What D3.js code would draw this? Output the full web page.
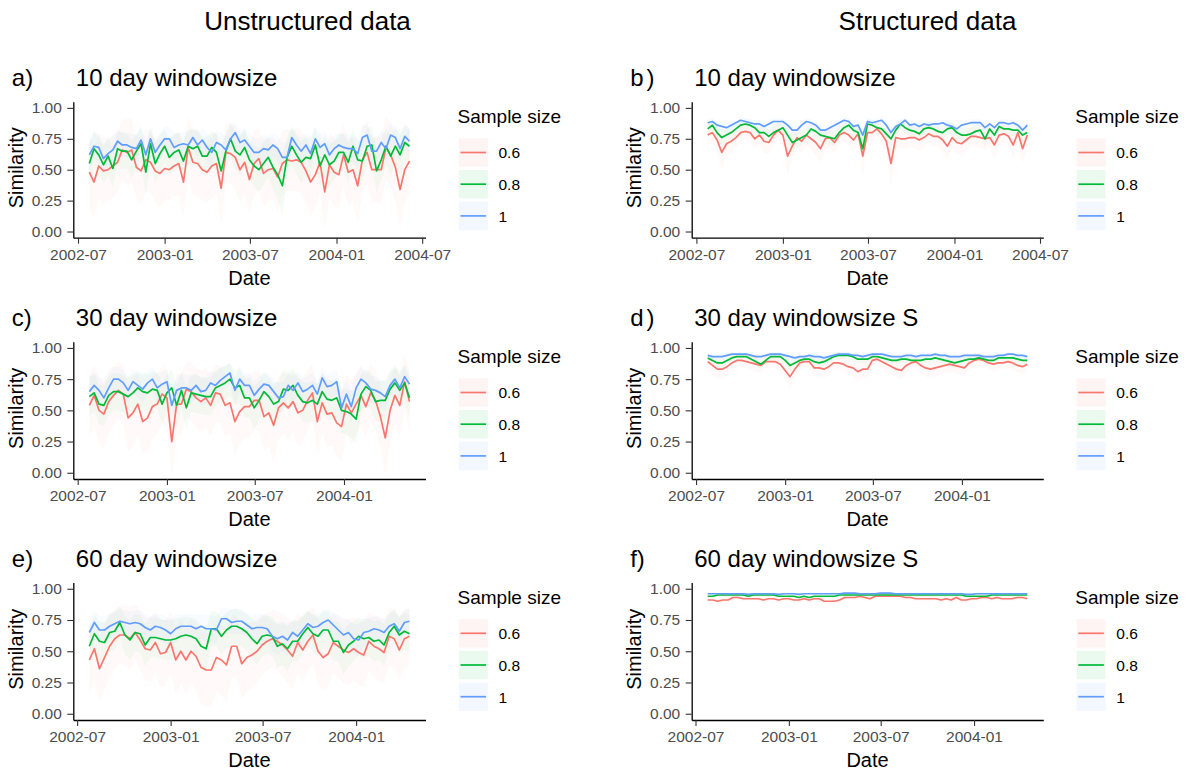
<!DOCTYPE html>
<html>
<head>
<meta charset="utf-8">
<script src="https://cdn.jsdelivr.net/npm/d3@7"></script>
<style>
body { margin: 0; background: #fff; font-family: "Liberation Sans", Arial, sans-serif; }
</style>
</head>
<body>
<div id="chart"></div>
<script>
// similarity per window (points every 10 days), one array per sample size
var a06 = [0.48,0.40,0.53,0.49,0.50,0.53,0.56,0.66,0.64,0.66, 0.52,0.49,0.58,0.56,0.49,0.47,0.51,0.50,0.53,0.55, 0.40,0.68,0.56,0.55,0.50,0.48,0.53,0.55,0.35,0.64, 0.63,0.60,0.50,0.56,0.42,0.55,0.59,0.47,0.50,0.51, 0.44,0.55,0.58,0.57,0.58,0.56,0.49,0.40,0.46,0.56, 0.32,0.54,0.48,0.46,0.62,0.48,0.50,0.37,0.58,0.64, 0.50,0.50,0.50,0.68,0.62,0.52,0.34,0.50,0.57];
var a08 = [0.55,0.67,0.62,0.54,0.61,0.51,0.67,0.65,0.65,0.58, 0.65,0.71,0.48,0.71,0.55,0.63,0.69,0.60,0.64,0.66, 0.57,0.69,0.67,0.69,0.61,0.61,0.68,0.64,0.49,0.65, 0.75,0.65,0.62,0.68,0.58,0.53,0.50,0.55,0.60,0.52, 0.46,0.37,0.60,0.69,0.62,0.56,0.60,0.59,0.70,0.53, 0.62,0.54,0.57,0.64,0.64,0.56,0.69,0.58,0.57,0.69, 0.70,0.49,0.58,0.69,0.61,0.69,0.62,0.72,0.69];
var a10 = [0.62,0.69,0.68,0.59,0.63,0.66,0.73,0.70,0.70,0.68, 0.67,0.74,0.62,0.75,0.64,0.70,0.75,0.75,0.68,0.70, 0.71,0.70,0.76,0.70,0.74,0.68,0.64,0.72,0.70,0.66, 0.75,0.80,0.72,0.74,0.69,0.64,0.64,0.67,0.66,0.70, 0.67,0.60,0.60,0.76,0.70,0.65,0.70,0.63,0.75,0.68, 0.71,0.62,0.67,0.70,0.68,0.67,0.67,0.63,0.76,0.78, 0.65,0.65,0.72,0.67,0.78,0.76,0.67,0.77,0.73];

var b06 = [0.78,0.80,0.74,0.64,0.71,0.73,0.76,0.80,0.81,0.80, 0.75,0.78,0.73,0.72,0.78,0.82,0.78,0.61,0.69,0.76, 0.73,0.78,0.75,0.72,0.67,0.75,0.76,0.72,0.78,0.80, 0.78,0.74,0.79,0.61,0.80,0.80,0.83,0.79,0.73,0.55, 0.76,0.75,0.75,0.76,0.76,0.74,0.76,0.79,0.77,0.77, 0.74,0.69,0.76,0.72,0.71,0.74,0.77,0.77,0.76,0.75, 0.76,0.70,0.78,0.79,0.77,0.70,0.80,0.67,0.78];
var b08 = [0.83,0.86,0.80,0.76,0.78,0.80,0.83,0.86,0.87,0.86, 0.84,0.80,0.80,0.77,0.80,0.82,0.84,0.78,0.72,0.74, 0.76,0.78,0.83,0.81,0.78,0.77,0.76,0.75,0.80,0.84, 0.86,0.82,0.80,0.67,0.87,0.86,0.84,0.83,0.79,0.75, 0.82,0.87,0.84,0.82,0.81,0.79,0.83,0.84,0.83,0.81, 0.80,0.83,0.84,0.80,0.78,0.78,0.79,0.81,0.82,0.75, 0.83,0.78,0.85,0.83,0.83,0.82,0.82,0.78,0.80];
var b10 = [0.88,0.89,0.86,0.85,0.84,0.86,0.88,0.90,0.89,0.88, 0.87,0.87,0.85,0.87,0.89,0.89,0.89,0.86,0.82,0.82, 0.86,0.89,0.88,0.86,0.82,0.82,0.84,0.86,0.88,0.90, 0.89,0.85,0.86,0.78,0.89,0.88,0.89,0.90,0.86,0.80, 0.85,0.87,0.90,0.86,0.87,0.85,0.87,0.86,0.87,0.87, 0.88,0.86,0.85,0.83,0.86,0.87,0.88,0.88,0.88,0.84, 0.87,0.84,0.88,0.88,0.87,0.88,0.86,0.82,0.86];

var c06 = [0.54,0.62,0.50,0.47,0.57,0.62,0.66,0.63,0.44,0.48, 0.55,0.41,0.44,0.53,0.55,0.63,0.60,0.25,0.55,0.55, 0.67,0.65,0.60,0.57,0.60,0.54,0.64,0.63,0.54,0.56, 0.41,0.49,0.53,0.53,0.58,0.58,0.45,0.48,0.38,0.52, 0.56,0.52,0.57,0.48,0.50,0.58,0.64,0.41,0.56,0.47, 0.48,0.40,0.37,0.55,0.48,0.55,0.62,0.53,0.64,0.58, 0.45,0.28,0.50,0.62,0.54,0.73,0.57];
var c08 = [0.61,0.64,0.55,0.54,0.62,0.65,0.65,0.63,0.61,0.64, 0.68,0.65,0.64,0.67,0.66,0.55,0.64,0.68,0.54,0.66, 0.52,0.64,0.63,0.62,0.61,0.61,0.68,0.70,0.72,0.75, 0.68,0.70,0.60,0.60,0.52,0.58,0.65,0.61,0.55,0.57, 0.67,0.66,0.70,0.62,0.57,0.56,0.58,0.55,0.65,0.59, 0.58,0.60,0.50,0.49,0.47,0.43,0.63,0.69,0.66,0.57, 0.58,0.58,0.67,0.72,0.66,0.72,0.60];
var c10 = [0.65,0.70,0.66,0.60,0.68,0.75,0.75,0.72,0.66,0.73, 0.70,0.67,0.72,0.75,0.68,0.71,0.73,0.54,0.66,0.68, 0.68,0.66,0.70,0.65,0.66,0.72,0.70,0.74,0.77,0.80, 0.66,0.75,0.70,0.70,0.62,0.67,0.71,0.70,0.65,0.60, 0.61,0.70,0.66,0.72,0.65,0.67,0.70,0.63,0.76,0.69, 0.70,0.73,0.52,0.63,0.53,0.68,0.75,0.72,0.67,0.66, 0.64,0.61,0.70,0.75,0.68,0.77,0.71];

var d06 = [0.89,0.86,0.83,0.83,0.85,0.88,0.90,0.90,0.89,0.88, 0.87,0.86,0.89,0.89,0.89,0.87,0.82,0.77,0.83,0.88, 0.89,0.89,0.84,0.84,0.83,0.85,0.88,0.88,0.87,0.85, 0.84,0.81,0.83,0.83,0.90,0.91,0.89,0.87,0.85,0.83, 0.82,0.86,0.88,0.89,0.86,0.84,0.83,0.84,0.85,0.86, 0.87,0.86,0.85,0.84,0.88,0.90,0.91,0.90,0.88,0.87, 0.88,0.88,0.89,0.88,0.86,0.85,0.87];
var d08 = [0.92,0.90,0.88,0.88,0.90,0.92,0.93,0.93,0.93,0.91, 0.89,0.87,0.90,0.93,0.93,0.93,0.90,0.86,0.88,0.90, 0.91,0.91,0.89,0.88,0.89,0.91,0.93,0.94,0.94,0.94, 0.93,0.91,0.91,0.91,0.93,0.93,0.92,0.91,0.90,0.90, 0.91,0.91,0.90,0.90,0.90,0.91,0.91,0.92,0.91,0.90, 0.89,0.88,0.89,0.90,0.91,0.91,0.92,0.91,0.90,0.90, 0.92,0.92,0.92,0.92,0.91,0.90,0.90];
var d10 = [0.94,0.93,0.93,0.93,0.94,0.95,0.95,0.95,0.95,0.94, 0.93,0.93,0.94,0.95,0.95,0.95,0.94,0.93,0.92,0.93, 0.93,0.94,0.93,0.93,0.92,0.93,0.94,0.95,0.95,0.95, 0.94,0.94,0.93,0.94,0.95,0.95,0.95,0.94,0.93,0.93, 0.93,0.94,0.94,0.93,0.94,0.94,0.94,0.95,0.94,0.94, 0.93,0.93,0.93,0.94,0.94,0.94,0.94,0.93,0.93,0.93, 0.94,0.94,0.95,0.95,0.94,0.94,0.93];

var e06 = [0.43,0.52,0.36,0.45,0.54,0.60,0.63,0.63,0.60,0.65, 0.59,0.52,0.51,0.57,0.48,0.49,0.57,0.43,0.50,0.43, 0.50,0.46,0.37,0.35,0.35,0.45,0.43,0.39,0.54,0.54, 0.40,0.45,0.47,0.50,0.55,0.58,0.60,0.58,0.55,0.51, 0.46,0.57,0.51,0.58,0.63,0.50,0.45,0.48,0.57,0.54, 0.51,0.49,0.52,0.49,0.47,0.58,0.54,0.52,0.49,0.62, 0.60,0.51,0.60,0.62];
var e08 = [0.54,0.64,0.58,0.57,0.65,0.66,0.73,0.63,0.59,0.65, 0.64,0.55,0.61,0.61,0.60,0.59,0.59,0.60,0.62,0.63, 0.62,0.60,0.54,0.52,0.68,0.68,0.62,0.67,0.70,0.70, 0.68,0.65,0.60,0.56,0.62,0.63,0.62,0.54,0.56,0.52, 0.58,0.58,0.64,0.69,0.64,0.62,0.67,0.67,0.58,0.58, 0.49,0.55,0.58,0.62,0.60,0.61,0.58,0.59,0.55,0.65, 0.70,0.63,0.66,0.64];
var e10 = [0.65,0.73,0.67,0.67,0.70,0.72,0.74,0.73,0.72,0.73, 0.72,0.69,0.67,0.70,0.69,0.67,0.64,0.68,0.70,0.70, 0.70,0.68,0.70,0.68,0.68,0.67,0.76,0.76,0.73,0.74, 0.74,0.71,0.68,0.69,0.69,0.68,0.62,0.60,0.62,0.59, 0.65,0.62,0.67,0.72,0.69,0.70,0.73,0.75,0.71,0.67, 0.63,0.65,0.60,0.59,0.65,0.66,0.68,0.67,0.65,0.70, 0.72,0.66,0.73,0.74];

var f06 = [0.91,0.91,0.90,0.91,0.91,0.93,0.93,0.92,0.92,0.92, 0.92,0.91,0.92,0.92,0.91,0.92,0.92,0.91,0.91,0.92, 0.91,0.92,0.92,0.90,0.90,0.90,0.91,0.93,0.93,0.93, 0.94,0.93,0.92,0.94,0.94,0.94,0.94,0.94,0.94,0.93, 0.93,0.92,0.92,0.92,0.92,0.92,0.91,0.92,0.91,0.93, 0.91,0.91,0.92,0.92,0.93,0.93,0.92,0.93,0.92,0.92, 0.92,0.93,0.93,0.92];
var f08 = [0.94,0.94,0.95,0.95,0.95,0.95,0.95,0.95,0.94,0.95, 0.95,0.95,0.95,0.95,0.94,0.94,0.94,0.94,0.93,0.94, 0.93,0.94,0.94,0.94,0.94,0.94,0.95,0.95,0.95,0.95, 0.95,0.95,0.95,0.95,0.95,0.95,0.95,0.95,0.95,0.95, 0.95,0.95,0.95,0.95,0.95,0.95,0.95,0.95,0.95,0.95, 0.95,0.94,0.94,0.94,0.94,0.94,0.95,0.95,0.95,0.95, 0.95,0.95,0.95,0.95];
var f10 = [0.96,0.96,0.96,0.96,0.96,0.96,0.96,0.96,0.955,0.96, 0.96,0.96,0.96,0.96,0.955,0.96,0.96,0.96,0.955,0.96, 0.96,0.96,0.96,0.96,0.96,0.96,0.96,0.965,0.965,0.965, 0.96,0.96,0.96,0.96,0.965,0.965,0.965,0.96,0.96,0.96, 0.96,0.96,0.96,0.96,0.96,0.96,0.96,0.96,0.96,0.96, 0.96,0.955,0.955,0.96,0.96,0.96,0.96,0.96,0.96,0.96, 0.96,0.96,0.96,0.96];

// half-width of the shaded band round each line
var a06sd = [0.30,0.28,0.26,0.27,0.25,0.26,0.24,0.25,0.27,0.26, 0.25,0.27,0.26,0.24,0.25,0.27,0.26,0.25,0.24,0.26, 0.28,0.25,0.26,0.27,0.25,0.24,0.26,0.25,0.29,0.25, 0.24,0.26,0.27,0.25,0.28,0.26,0.25,0.27,0.26,0.25, 0.28,0.26,0.25,0.24,0.26,0.25,0.27,0.28,0.26,0.25, 0.30,0.26,0.27,0.28,0.25,0.27,0.26,0.29,0.26,0.25, 0.27,0.26,0.28,0.25,0.26,0.27,0.32,0.27,0.26];
var a08sd = [0.16,0.15,0.14,0.15,0.16,0.15,0.14,0.15,0.14,0.15, 0.14,0.15,0.18,0.14,0.16,0.15,0.14,0.15,0.15,0.14, 0.16,0.14,0.15,0.14,0.15,0.16,0.14,0.15,0.17,0.15, 0.14,0.15,0.16,0.15,0.16,0.17,0.18,0.17,0.16,0.18, 0.20,0.24,0.17,0.15,0.16,0.17,0.16,0.16,0.15,0.17, 0.16,0.17,0.16,0.15,0.15,0.16,0.14,0.16,0.16,0.15, 0.15,0.18,0.16,0.15,0.16,0.15,0.17,0.15,0.15];
var a10sd = [0.12,0.11,0.11,0.12,0.11,0.11,0.10,0.10,0.10,0.11, 0.11,0.10,0.12,0.10,0.11,0.10,0.10,0.10,0.11,0.10, 0.10,0.10,0.09,0.10,0.10,0.11,0.11,0.10,0.10,0.11, 0.10,0.09,0.10,0.10,0.11,0.11,0.11,0.11,0.11,0.10, 0.11,0.12,0.12,0.10,0.10,0.11,0.10,0.12,0.10,0.11, 0.10,0.12,0.11,0.10,0.11,0.11,0.11,0.12,0.10,0.09, 0.11,0.11,0.10,0.11,0.09,0.10,0.11,0.09,0.10];

var b06sd = [0.09,0.08,0.09,0.14,0.10,0.09,0.08,0.07,0.07,0.07, 0.08,0.07,0.09,0.09,0.08,0.07,0.08,0.15,0.11,0.08, 0.09,0.08,0.09,0.10,0.12,0.09,0.08,0.09,0.08,0.07, 0.08,0.09,0.08,0.18,0.07,0.07,0.06,0.07,0.09,0.20, 0.08,0.08,0.08,0.08,0.08,0.09,0.08,0.07,0.08,0.08, 0.09,0.10,0.08,0.09,0.10,0.09,0.08,0.08,0.08,0.09, 0.08,0.11,0.08,0.07,0.08,0.10,0.07,0.12,0.09];
var b08sd = [0.05,0.04,0.05,0.07,0.06,0.05,0.05,0.04,0.04,0.04, 0.05,0.05,0.05,0.06,0.05,0.05,0.05,0.06,0.07,0.06, 0.06,0.05,0.05,0.05,0.06,0.06,0.06,0.06,0.05,0.05, 0.04,0.05,0.05,0.10,0.04,0.04,0.05,0.05,0.05,0.07, 0.05,0.04,0.05,0.05,0.05,0.05,0.05,0.05,0.05,0.05, 0.05,0.05,0.05,0.05,0.06,0.06,0.05,0.05,0.05,0.07, 0.05,0.06,0.04,0.05,0.05,0.05,0.05,0.06,0.05];
var b10sd = [0.03,0.03,0.03,0.04,0.04,0.03,0.03,0.03,0.03,0.03, 0.03,0.03,0.04,0.03,0.03,0.03,0.03,0.03,0.04,0.04, 0.03,0.03,0.03,0.03,0.04,0.04,0.04,0.03,0.03,0.03, 0.03,0.04,0.03,0.06,0.03,0.03,0.03,0.03,0.03,0.05, 0.04,0.03,0.03,0.03,0.03,0.03,0.03,0.03,0.03,0.03, 0.03,0.03,0.03,0.04,0.03,0.03,0.03,0.03,0.03,0.04, 0.03,0.04,0.03,0.03,0.03,0.03,0.03,0.04,0.03];

var c06sd = [0.25,0.24,0.27,0.28,0.25,0.24,0.23,0.24,0.27,0.27, 0.25,0.26,0.27,0.25,0.24,0.23,0.24,0.30,0.25,0.25, 0.22,0.23,0.24,0.25,0.24,0.25,0.23,0.23,0.25,0.24, 0.27,0.26,0.25,0.25,0.24,0.24,0.27,0.26,0.30,0.26, 0.25,0.26,0.24,0.27,0.26,0.24,0.23,0.27,0.25,0.27, 0.26,0.27,0.28,0.24,0.26,0.25,0.24,0.25,0.23,0.24, 0.26,0.30,0.26,0.23,0.25,0.22,0.25];
var c08sd = [0.16,0.15,0.16,0.16,0.15,0.15,0.15,0.15,0.15,0.15, 0.14,0.15,0.15,0.14,0.15,0.16,0.15,0.15,0.17,0.15, 0.17,0.15,0.15,0.15,0.15,0.15,0.14,0.14,0.14,0.13, 0.14,0.14,0.16,0.16,0.17,0.16,0.15,0.16,0.17,0.16, 0.15,0.15,0.14,0.15,0.16,0.16,0.16,0.17,0.15,0.16, 0.16,0.16,0.18,0.18,0.19,0.20,0.16,0.14,0.15,0.16, 0.16,0.16,0.15,0.14,0.15,0.14,0.16];
var c10sd = [0.12,0.11,0.11,0.12,0.11,0.10,0.10,0.10,0.11,0.10, 0.10,0.11,0.10,0.10,0.11,0.10,0.10,0.13,0.11,0.11, 0.11,0.11,0.10,0.11,0.11,0.10,0.10,0.10,0.09,0.08, 0.11,0.10,0.10,0.10,0.12,0.11,0.10,0.10,0.11,0.12, 0.12,0.10,0.11,0.10,0.11,0.11,0.10,0.11,0.09,0.10, 0.10,0.10,0.13,0.12,0.13,0.11,0.10,0.10,0.11,0.11, 0.11,0.12,0.10,0.09,0.10,0.09,0.10];

var d06sd = [0.06,0.07,0.08,0.08,0.07,0.06,0.05,0.05,0.05,0.06, 0.06,0.06,0.05,0.05,0.05,0.06,0.07,0.09,0.07,0.06, 0.05,0.05,0.07,0.07,0.07,0.06,0.05,0.05,0.06,0.06, 0.07,0.08,0.07,0.07,0.05,0.05,0.05,0.06,0.06,0.07, 0.07,0.06,0.05,0.05,0.06,0.07,0.07,0.07,0.06,0.06, 0.06,0.06,0.06,0.07,0.05,0.05,0.05,0.05,0.05,0.06, 0.05,0.05,0.05,0.05,0.06,0.06,0.06];
var d08sd = [0.03,0.04,0.04,0.04,0.03,0.03,0.03,0.03,0.03,0.03, 0.04,0.04,0.03,0.03,0.03,0.03,0.04,0.05,0.04,0.04, 0.03,0.03,0.04,0.04,0.04,0.03,0.03,0.03,0.03,0.03, 0.03,0.03,0.03,0.03,0.03,0.03,0.03,0.03,0.03,0.03, 0.03,0.03,0.03,0.03,0.03,0.03,0.03,0.03,0.03,0.03, 0.04,0.04,0.04,0.03,0.03,0.03,0.03,0.03,0.03,0.03, 0.03,0.03,0.03,0.03,0.03,0.03,0.03];
var d10sd = [0.02,0.02,0.02,0.02,0.02,0.02,0.02,0.02,0.02,0.02, 0.02,0.02,0.02,0.02,0.02,0.02,0.02,0.03,0.03,0.02, 0.02,0.02,0.02,0.02,0.03,0.02,0.02,0.02,0.02,0.02, 0.02,0.02,0.02,0.02,0.02,0.02,0.02,0.02,0.02,0.02, 0.02,0.02,0.02,0.02,0.02,0.02,0.02,0.02,0.02,0.02, 0.02,0.02,0.02,0.02,0.02,0.02,0.02,0.02,0.02,0.02, 0.02,0.02,0.02,0.02,0.02,0.02,0.02];

var e06sd = [0.26,0.24,0.27,0.26,0.25,0.24,0.23,0.24,0.25,0.23, 0.24,0.25,0.26,0.25,0.27,0.26,0.25,0.27,0.26,0.27, 0.26,0.27,0.29,0.30,0.29,0.27,0.28,0.29,0.25,0.25, 0.28,0.27,0.26,0.25,0.24,0.23,0.23,0.24,0.25,0.26, 0.27,0.24,0.26,0.24,0.23,0.26,0.27,0.26,0.24,0.25, 0.26,0.26,0.25,0.26,0.26,0.24,0.25,0.25,0.26,0.23, 0.24,0.26,0.24,0.23];
var e08sd = [0.16,0.15,0.16,0.16,0.15,0.15,0.13,0.15,0.16,0.15, 0.15,0.17,0.16,0.16,0.16,0.16,0.16,0.16,0.15,0.15, 0.15,0.16,0.17,0.17,0.14,0.14,0.15,0.14,0.14,0.14, 0.14,0.15,0.16,0.17,0.16,0.15,0.16,0.17,0.17,0.18, 0.16,0.16,0.15,0.14,0.15,0.15,0.15,0.15,0.16,0.16, 0.18,0.17,0.16,0.15,0.16,0.15,0.16,0.16,0.17,0.15, 0.14,0.15,0.15,0.15];
var e10sd = [0.12,0.10,0.11,0.11,0.10,0.10,0.10,0.10,0.10,0.10, 0.10,0.11,0.11,0.10,0.11,0.11,0.12,0.11,0.10,0.10, 0.10,0.11,0.10,0.11,0.11,0.11,0.09,0.09,0.10,0.10, 0.10,0.10,0.11,0.11,0.11,0.11,0.12,0.13,0.12,0.13, 0.11,0.12,0.11,0.10,0.11,0.10,0.10,0.09,0.10,0.11, 0.12,0.11,0.12,0.13,0.11,0.11,0.10,0.11,0.11,0.10, 0.10,0.11,0.10,0.10];

var f06sd = [0.03,0.03,0.03,0.03,0.03,0.02,0.02,0.02,0.02,0.02, 0.02,0.03,0.02,0.02,0.03,0.02,0.02,0.03,0.03,0.02, 0.03,0.02,0.02,0.03,0.03,0.03,0.03,0.02,0.02,0.02, 0.02,0.02,0.02,0.02,0.02,0.02,0.02,0.02,0.02,0.02, 0.02,0.02,0.02,0.02,0.02,0.02,0.03,0.02,0.03,0.02, 0.03,0.03,0.02,0.02,0.02,0.02,0.02,0.02,0.02,0.02, 0.02,0.02,0.02,0.02];
var f08sd = [0.015,0.015,0.015,0.015,0.015,0.015,0.015,0.015,0.015,0.015, 0.015,0.015,0.015,0.015,0.015,0.015,0.015,0.015,0.02,0.015, 0.02,0.015,0.015,0.015,0.015,0.015,0.015,0.015,0.015,0.015, 0.015,0.015,0.015,0.015,0.015,0.015,0.015,0.015,0.015,0.015, 0.015,0.015,0.015,0.015,0.015,0.015,0.015,0.015,0.015,0.015, 0.015,0.015,0.015,0.015,0.015,0.015,0.015,0.015,0.015,0.015, 0.015,0.015,0.015,0.015];
var f10sd = [0.01,0.01,0.01,0.01,0.01,0.01,0.01,0.01,0.01,0.01, 0.01,0.01,0.01,0.01,0.01,0.01,0.01,0.01,0.01,0.01, 0.01,0.01,0.01,0.01,0.01,0.01,0.01,0.01,0.01,0.01, 0.01,0.01,0.01,0.01,0.01,0.01,0.01,0.01,0.01,0.01, 0.01,0.01,0.01,0.01,0.01,0.01,0.01,0.01,0.01,0.01, 0.01,0.01,0.01,0.01,0.01,0.01,0.01,0.01,0.01,0.01, 0.01,0.01,0.01,0.01];

var firstDate = '2002-07-25';
var stepDays = 10;
var sampleSizes = ['0.6', '0.8', '1'];
var yTicks = [0, 0.25, 0.5, 0.75, 1];
var xTicksLong = ['2002-07', '2003-01', '2003-07', '2004-01', '2004-07'];
var xTicksShort = ['2002-07', '2003-01', '2003-07', '2004-01'];
var columnTitles = ['Unstructured data', 'Structured data'];

var colors = ['#F8766D', '#00BA38', '#619CFF'];
var width = 1193, height = 770;
var font = '"Liberation Sans", Arial, sans-serif';
var parseDay = d3.timeParse('%Y-%m-%d');
var parseMonth = d3.timeParse('%Y-%m');

var svg = d3.select('#chart')
    .append('svg')
        .attr('width', width)
        .attr('height', height)
        .style('font-family', font);

svg.append('text').attr('x', 307.5).attr('y', 30).attr('text-anchor', 'middle')
    .attr('font-size', 26).text(columnTitles[0]);
svg.append('text').attr('x', 927.5).attr('y', 30).attr('text-anchor', 'middle')
    .attr('font-size', 26).text(columnTitles[1]);

var left = [73.3, 425.5], right = [691.7, 1043.3];
var rows = [[101.7, 237.7], [341.7, 479], [582.5, 720]];

var panels = [
    {label: 'a', gap: 0, title: '10 day windowsize', xr: left, yr: rows[0], ticks: xTicksLong, series: [a06, a08, a10], sd: [a06sd, a08sd, a10sd]},
    {label: 'b', gap: 3, title: '10 day windowsize', xr: right, yr: rows[0], ticks: xTicksLong, series: [b06, b08, b10], sd: [b06sd, b08sd, b10sd]},
    {label: 'c', gap: 0, title: '30 day windowsize', xr: left, yr: rows[1], ticks: xTicksShort, series: [c06, c08, c10], sd: [c06sd, c08sd, c10sd]},
    {label: 'd', gap: 3, title: '30 day windowsize S', xr: right, yr: rows[1], ticks: xTicksShort, series: [d06, d08, d10], sd: [d06sd, d08sd, d10sd]},
    {label: 'e', gap: 0, title: '60 day windowsize', xr: left, yr: rows[2], ticks: xTicksShort, series: [e06, e08, e10], sd: [e06sd, e08sd, e10sd]},
    {label: 'f', gap: 0, title: '60 day windowsize S', xr: right, yr: rows[2], ticks: xTicksShort, series: [f06, f08, f10], sd: [f06sd, f08sd, f10sd]}
];

panels.forEach(drawPanel);

function drawPanel(p) {
    var g = svg.append('g');
    var dates = p.series[0].map(function(d, i) {
        return d3.timeDay.offset(parseDay(firstDate), i * stepDays);
    });
    var ext = d3.extent(dates);
    var pad = (ext[1] - ext[0]) * 0.05;

    var x = d3.scaleTime()
        .domain([new Date(+ext[0] - pad), new Date(+ext[1] + pad)])
        .range(p.xr);
    var y = d3.scaleLinear()
        .domain([-0.05, 1.05])
        .range([p.yr[1], p.yr[0]]);

    // bands first, then lines
    p.series.forEach(function(s, k) {
        var area = d3.area()
            .x(function(d, i) { return x(dates[i]); })
            .y0(function(d, i) { return y(d - p.sd[k][i]); })
            .y1(function(d, i) { return y(d + p.sd[k][i]); });
        g.append('path').datum(s)
            .attr('d', area)
            .attr('fill', colors[k])
            .attr('fill-opacity', 0.045);
    });
    p.series.forEach(function(s, k) {
        var line = d3.line()
            .x(function(d, i) { return x(dates[i]); })
            .y(function(d) { return y(d); });
        g.append('path').datum(s)
            .attr('d', line)
            .attr('fill', 'none')
            .attr('stroke', colors[k])
            .attr('stroke-width', 1.7)
            .attr('stroke-linejoin', 'round');
    });

    var yAxis = g.append('g')
        .attr('transform', 'translate(' + p.xr[0] + ',0)')
        .call(d3.axisLeft(y).tickValues(yTicks).tickFormat(d3.format('.2f'))
            .tickSize(6).tickSizeOuter(0).tickPadding(5.5));
    var xAxis = g.append('g')
        .attr('transform', 'translate(0,' + p.yr[1] + ')')
        .call(d3.axisBottom(x).tickValues(p.ticks.map(parseMonth))
            .tickFormat(d3.timeFormat('%Y-%m')).tickSize(6).tickSizeOuter(0).tickPadding(5));
    [xAxis, yAxis].forEach(function(a) {
        a.select('.domain').attr('stroke', '#000').attr('stroke-width', 1.3);
        a.selectAll('.tick line').attr('stroke', '#333').attr('stroke-width', 1.1);
        a.selectAll('.tick text').attr('fill', '#4D4D4D').attr('font-size', 15.5)
            .attr('font-family', font);
    });

    var cx = (p.xr[0] + p.xr[1]) / 2;
    g.append('text').attr('x', cx).attr('y', p.yr[1] + 47)
        .attr('text-anchor', 'middle').attr('font-size', 20).text('Date');
    g.append('text')
        .attr('transform', 'translate(' + (p.xr[0] - 50.5) + ',' + ((p.yr[0] + p.yr[1]) / 2 - 2) + ') rotate(-90)')
        .attr('text-anchor', 'middle').attr('font-size', 20).text('Similarity');

    // panel tag and title
    var tag = g.append('text').attr('x', p.xr[0] - 61.5).attr('y', p.yr[0] - 15.5).attr('font-size', 24);
    tag.append('tspan').text(p.label);
    tag.append('tspan').attr('dx', p.gap).text(')');
    g.append('text').attr('x', p.xr[0] + 2.5).attr('y', p.yr[0] - 15.5)
        .attr('font-size', 24).text(p.title);

    // legend
    var lx = p.xr[1] + 32;
    g.append('text').attr('x', lx).attr('y', p.yr[0] + 21.5)
        .attr('font-size', 19).text('Sample size');
    sampleSizes.forEach(function(s, k) {
        var ky = p.yr[0] + 36.6 + k * 31.7;
        g.append('rect').attr('x', lx + 1.3).attr('y', ky).attr('width', 29).attr('height', 28.4)
            .attr('fill', colors[k]).attr('fill-opacity', 0.08);
        g.append('line').attr('x1', lx + 3).attr('x2', lx + 28.6)
            .attr('y1', ky + 14.2).attr('y2', ky + 14.2)
            .attr('stroke', colors[k]).attr('stroke-width', 1.7);
        g.append('text').attr('x', lx + 41).attr('y', ky + 20)
            .attr('font-size', 15.5).text(s);
    });
}
</script>
</body>
</html>
